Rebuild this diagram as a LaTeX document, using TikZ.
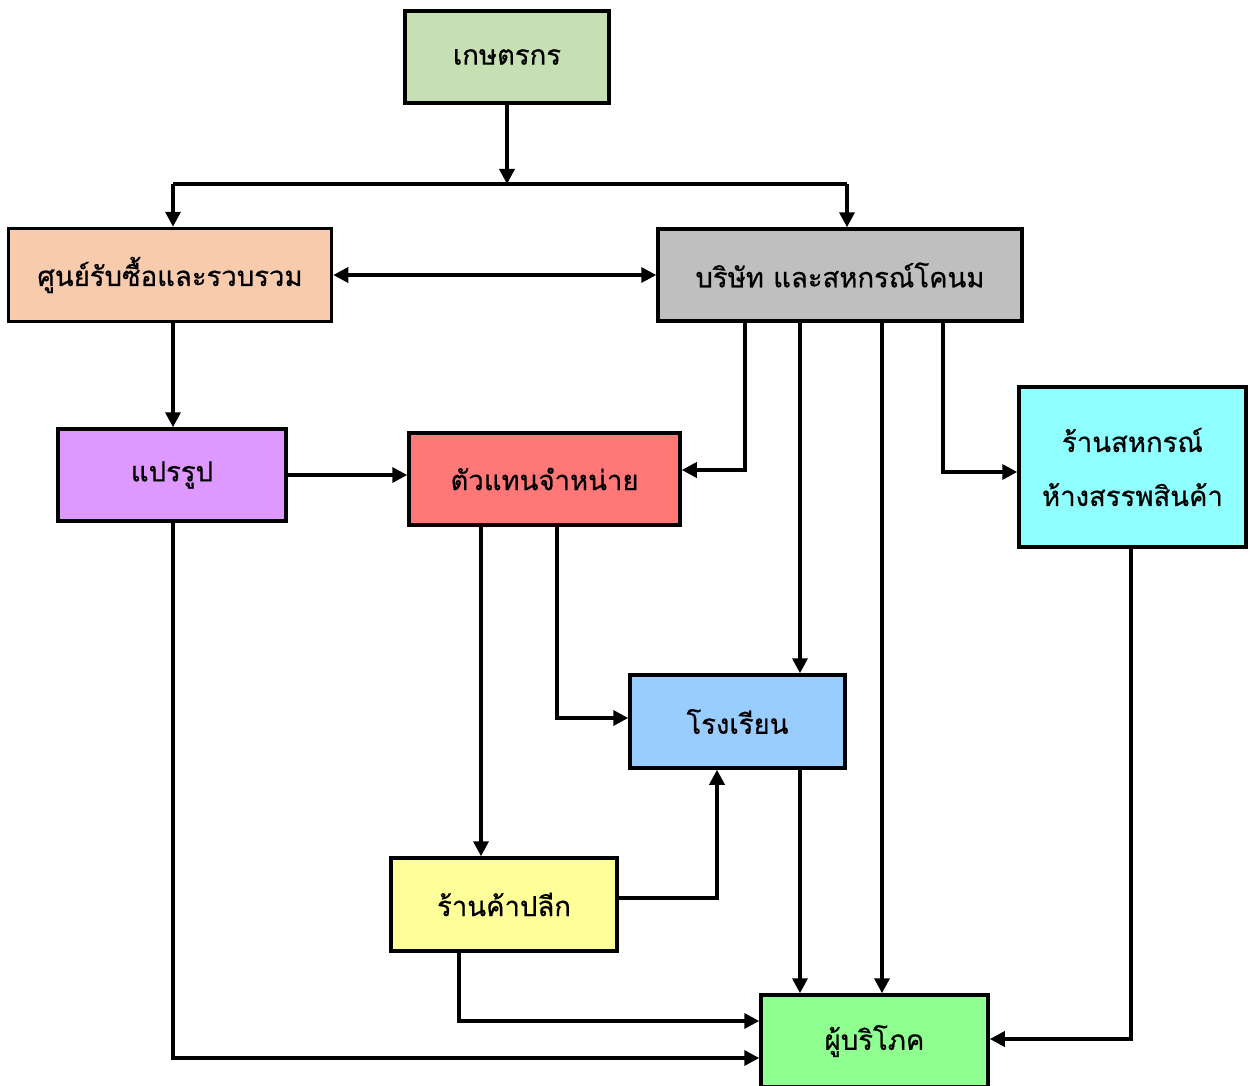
\documentclass[tikz,border=0pt]{standalone}
\usepackage{fontspec}
\newfontfamily\thaifont[Script=Thai,FakeBold=0.6]{Loma}
\usetikzlibrary{arrows.meta}
\definecolor{cKas}{HTML}{C6E0B4}
\definecolor{cCol}{HTML}{F8CBAD}
\definecolor{cCom}{HTML}{BFBFBF}
\definecolor{cPro}{HTML}{DD99FF}
\definecolor{cAge}{HTML}{FF7777}
\definecolor{cDep}{HTML}{8FFFFF}
\definecolor{cSch}{HTML}{99CCFF}
\definecolor{cRet}{HTML}{FFFF99}
\definecolor{cCon}{HTML}{8FFF8F}
\tikzset{
  box/.style={draw=black, line width=3.5pt, rectangle, inner sep=0pt, align=center,
    font=\thaifont\fontsize{27.5}{54}\selectfont},
  arr/.style={line width=3.5pt, -{Triangle[length=15pt,width=15pt]}},
  dbl/.style={line width=3.5pt, {Triangle[length=15pt,width=15pt]}-{Triangle[length=15pt,width=15pt]}},
  ln/.style={line width=3.5pt}
}
\begin{document}
\begin{tikzpicture}[x=1pt,y=-1pt]
\useasboundingbox (0,0) rectangle (1252,1086);
\node[box, fill=cKas, minimum width=204pt, minimum height=92pt] (kas) at (507,57) {เกษตรกร};
\node[box, fill=cCol, minimum width=323pt, minimum height=93pt] (col) at (170,275) {ศูนย์รับซื้อและรวบรวม};
\node[box, fill=cCom, minimum width=364pt, minimum height=92pt] (com) at (840,275) {บริษัท และสหกรณ์โคนม};
\node[box, fill=cPro, minimum width=228pt, minimum height=92pt] (pro) at (172,475) {แปรรูป};
\node[box, fill=cAge, minimum width=271pt, minimum height=92pt] (age) at (544.5,479) {ตัวแทนจำหน่าย};
\node[box, fill=cDep, minimum width=227pt, minimum height=160pt] (dep) at (1132.5,467) {ร้านสหกรณ์\\ห้างสรรพสินค้า};
\node[box, fill=cSch, minimum width=215pt, minimum height=93pt] (sch) at (737.5,721.5) {โรงเรียน};
\node[box, fill=cRet, minimum width=226pt, minimum height=93pt] (ret) at (504,904.5) {ร้านค้าปลีก};
\node[box, fill=cCon, minimum width=227pt, minimum height=92pt] (con) at (874.5,1041) {ผู้บริโภค};

\coordinate (jL) at (173,184);
\coordinate (jM) at (507,184);
\coordinate (jR) at (847,184);
\draw[ln] (jL) -- (jR);
\draw[arr] (kas.south) -- (jM);
\draw[arr] (jL) -- (jL |- col.north);
\draw[arr] (jR) -- (jR |- com.north);
\draw[dbl] (col.east) -- (com.west);
\draw[arr] (col.south -| 173,0) -- (pro.north -| 173,0);
\draw[arr] (pro.east) -- (pro.east -| age.west);
\draw[arr] (com.south -| 745,0) |- (age.east |- 0,470);
\draw[arr] (com.south -| 800,0) -- (sch.north -| 800,0);
\draw[arr] (com.south -| 882,0) -- (con.north -| 882,0);
\draw[arr] (com.south -| 943,0) |- (dep.west |- 0,472);
\draw[arr] (dep.south -| 1131,0) |- (con.east |- 0,1039);
\draw[arr] (age.south -| 481,0) -- (ret.north -| 481,0);
\draw[arr] (age.south -| 557,0) |- (sch.west |- 0,718);
\draw[arr] (ret.east |- 0,898) -| (sch.south -| 717,0);
\draw[arr] (sch.south -| 800,0) -- (con.north -| 800,0);
\draw[arr] (ret.south -| 459,0) |- (con.west |- 0,1021);
\draw[arr] (pro.south -| 173,0) |- (con.west |- 0,1058);
\end{tikzpicture}
\end{document}
